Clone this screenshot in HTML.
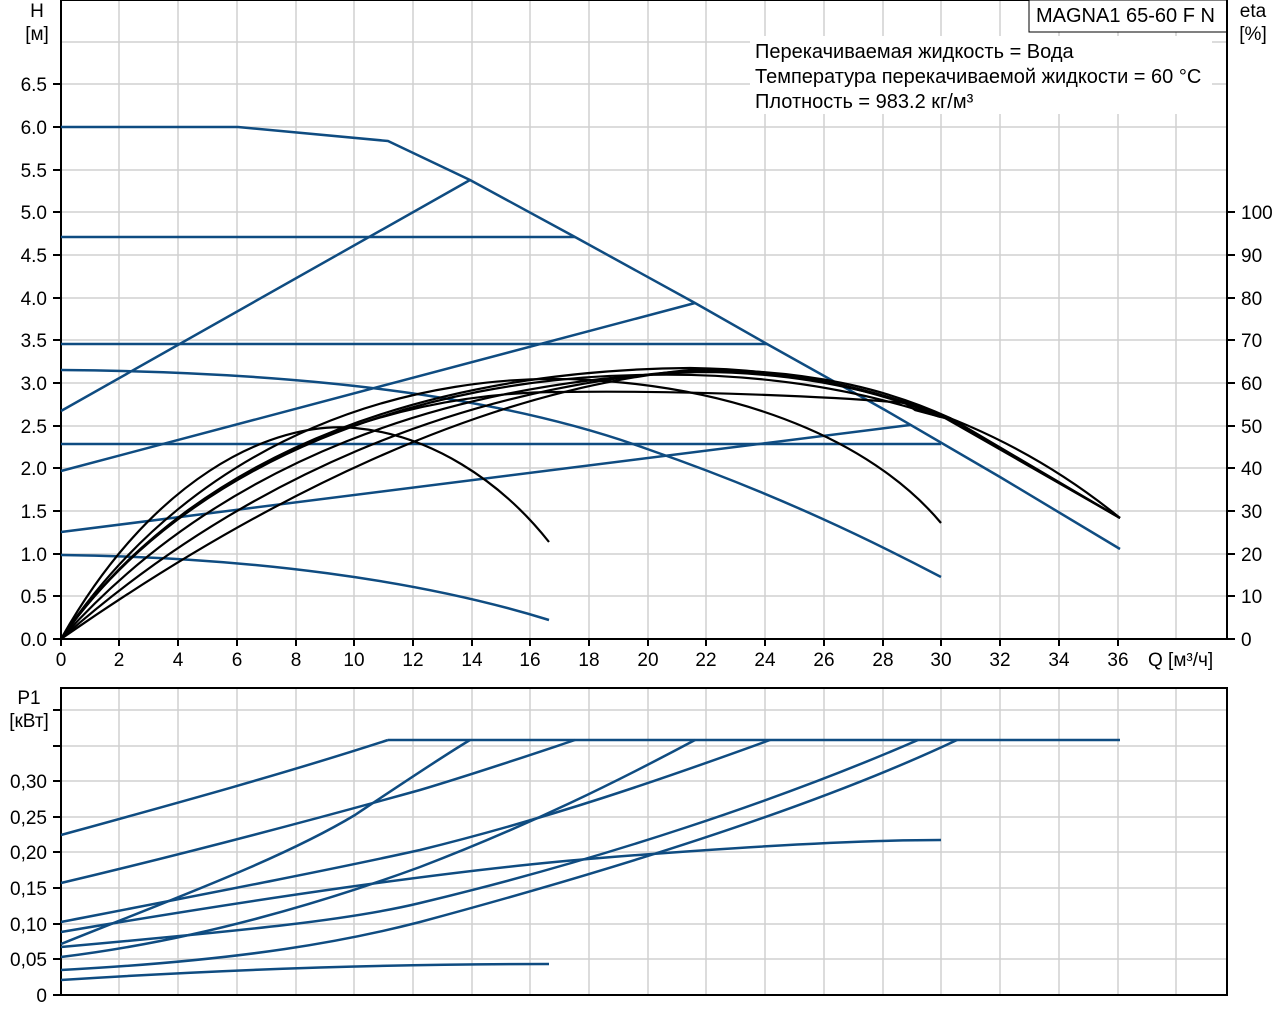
<!DOCTYPE html>
<html><head><meta charset="utf-8"><style>
html,body{margin:0;padding:0;background:#fff;width:1280px;height:1024px;overflow:hidden}
svg text{font-family:"Liberation Sans","DejaVu Sans",sans-serif;fill:#000}
</style></head><body>
<svg width="1280" height="1024" viewBox="0 0 1280 1024" xmlns="http://www.w3.org/2000/svg">
<g stroke="#d0d0d0" stroke-width="1.5" fill="none">
<path d="M119,0V639M178,0V639M237,0V639M296,0V639M354,0V639M413,0V639M472,0V639M530,0V639M589,0V639M648,0V639M706,0V639M765,0V639M824,0V639M883,0V639M941,0V639M1000,0V639M1059,0V639M1118,0V639M1176,0V639"/>
<path d="M61,42H1227M61,84H1227M61,127H1227M61,170H1227M61,212H1227M61,255H1227M61,298H1227M61,340H1227M61,383H1227M61,426H1227M61,468H1227M61,511H1227M61,554H1227M61,596H1227"/>
</g>
<g stroke="#d0d0d0" stroke-width="1.5" fill="none">
<path d="M119,688V995M178,688V995M237,688V995M296,688V995M354,688V995M413,688V995M472,688V995M530,688V995M589,688V995M648,688V995M706,688V995M765,688V995M824,688V995M883,688V995M941,688V995M1000,688V995M1059,688V995M1118,688V995M1176,688V995"/>
<path d="M61,710H1227M61,746H1227M61,781H1227M61,817H1227M61,852H1227M61,888H1227M61,924H1227M61,959H1227"/>
</g>
<rect x="750" y="36" width="462" height="78" fill="#fff"/>
<rect x="1029" y="0" width="198" height="32" fill="#fff" stroke="#000" stroke-width="1"/>
<text x="1036" y="22" font-size="20">MAGNA1 65-60 F N</text>
<text x="755" y="58" font-size="20">Перекачиваемая жидкость = Вода</text>
<text x="755" y="83" font-size="20">Температура перекачиваемой жидкости = 60 °C</text>
<text x="755" y="108" font-size="20">Плотность = 983.2 кг/м³</text>
<g stroke="#000" stroke-width="2" fill="none">
<path d="M61,0V639H1227M1227,0V639M61,0H1029"/>
<path d="M53,84H61M53,127H61M53,170H61M53,212H61M53,255H61M53,298H61M53,340H61M53,383H61M53,426H61M53,468H61M53,511H61M53,554H61M53,596H61M53,639H61"/>
<path d="M1227,212H1235M1227,255H1235M1227,298H1235M1227,340H1235M1227,383H1235M1227,426H1235M1227,468H1235M1227,511H1235M1227,554H1235M1227,596H1235M1227,639H1235"/>
<path d="M61,639V646M119,639V646M178,639V646M237,639V646M296,639V646M354,639V646M413,639V646M472,639V646M530,639V646M589,639V646M648,639V646M706,639V646M765,639V646M824,639V646M883,639V646M941,639V646M1000,639V646M1059,639V646M1118,639V646"/>
</g>
<g font-size="19" text-anchor="end">
<text x="47" y="91">6.5</text><text x="47" y="134">6.0</text><text x="47" y="177">5.5</text><text x="47" y="219">5.0</text><text x="47" y="262">4.5</text><text x="47" y="305">4.0</text><text x="47" y="347">3.5</text><text x="47" y="390">3.0</text><text x="47" y="433">2.5</text><text x="47" y="475">2.0</text><text x="47" y="518">1.5</text><text x="47" y="561">1.0</text><text x="47" y="603">0.5</text><text x="47" y="646">0.0</text>
</g>
<text x="37" y="17" font-size="19" text-anchor="middle">H</text>
<text x="37" y="40" font-size="19" text-anchor="middle">[м]</text>
<text x="1253" y="17" font-size="19" text-anchor="middle">eta</text>
<text x="1253" y="40" font-size="19" text-anchor="middle">[%]</text>
<g font-size="19">
<text x="1241" y="219">100</text><text x="1241" y="262">90</text><text x="1241" y="305">80</text><text x="1241" y="347">70</text><text x="1241" y="390">60</text><text x="1241" y="433">50</text><text x="1241" y="475">40</text><text x="1241" y="518">30</text><text x="1241" y="561">20</text><text x="1241" y="603">10</text><text x="1241" y="646">0</text>
</g>
<g font-size="19" text-anchor="middle">
<text x="61" y="666">0</text><text x="119" y="666">2</text><text x="178" y="666">4</text><text x="237" y="666">6</text><text x="296" y="666">8</text><text x="354" y="666">10</text><text x="413" y="666">12</text><text x="472" y="666">14</text><text x="530" y="666">16</text><text x="589" y="666">18</text><text x="648" y="666">20</text><text x="706" y="666">22</text><text x="765" y="666">24</text><text x="824" y="666">26</text><text x="883" y="666">28</text><text x="941" y="666">30</text><text x="1000" y="666">32</text><text x="1059" y="666">34</text><text x="1118" y="666">36</text>
</g>
<text x="1148" y="666" font-size="19">Q [м³/ч]</text>
<g stroke="#0f4c81" stroke-width="2.5" fill="none" stroke-linejoin="round">
<path d="M61,127L238,127L388,141L470,180L575,237L695,303L767,344L885,410L1000,477L1120,549"/>
<path d="M61,237H575M61,344H767M61,444H941"/>
<path d="M61,411L470,180M61,471L695,303M61,532L910,425"/>
<path d="M61,370C300,372 500,395 650,450C780,495 880,545 941,577"/>
<path d="M61,555C250,557 420,580 549,620"/>
</g>
<g stroke="#000" stroke-width="2.2" fill="none" stroke-linejoin="round">
<path d="M61,639C150,480 270,420 355,428C430,435 500,480 549,542"/>
<path d="M61,639C200,430 420,370 590,380C760,390 880,450 941,523"/>
<path d="M61,639C200,440 450,370 690,368C850,370 1000,420 1120,518"/>
<path d="M61,639C220,460 450,380 700,372C800,372 880,392 945,416L1120,518"/>
<path d="M61,639C180,470 380,392 560,392C700,390 850,398 905,403L915,410L945,418L1120,518"/>
<path d="M61,639C240,480 460,385 700,370C800,370 880,392 950,420L1120,518"/>
<path d="M61,639C260,500 480,390 690,370C820,368 900,395 950,418L1120,518"/>
<path d="M61,639C190,455 430,378 640,375C760,372 860,390 940,417"/>
</g>
<g stroke="#000" stroke-width="2" fill="none">
<path d="M61,688H1227V995H61Z"/>
<path d="M53,710H61M53,746H61M53,781H61M53,817H61M53,852H61M53,888H61M53,924H61M53,959H61M53,995H61"/>
</g>
<text x="29" y="704" font-size="19" text-anchor="middle">P1</text>
<text x="29" y="727" font-size="19" text-anchor="middle">[кВт]</text>
<g font-size="19" text-anchor="end">
<text x="47" y="788">0,30</text><text x="47" y="824">0,25</text><text x="47" y="859">0,20</text><text x="47" y="895">0,15</text><text x="47" y="931">0,10</text><text x="47" y="966">0,05</text><text x="47" y="1002">0</text>
</g>
<g stroke="#0f4c81" stroke-width="2.5" fill="none" stroke-linejoin="round">
<path d="M388,740H1120"/>
<path d="M61,835C170,805 280,775 388,740"/>
<path d="M61,883C200,850 330,815 420,790C480,772 530,755 575,740"/>
<path d="M61,944C170,900 280,860 355,815C400,785 440,758 470,740"/>
<path d="M61,922C200,895 330,870 420,850C550,818 660,780 770,740"/>
<path d="M61,932C250,900 450,870 600,858C750,846 860,840 941,840"/>
<path d="M61,957C200,940 330,900 420,867C530,825 620,780 695,740"/>
<path d="M61,947C250,930 350,920 420,903C600,860 780,800 918,740"/>
<path d="M61,970C250,960 350,940 420,922C650,860 830,800 957,740"/>
<path d="M61,980C250,968 400,964 549,964"/>
</g>
</svg>
</body></html>
